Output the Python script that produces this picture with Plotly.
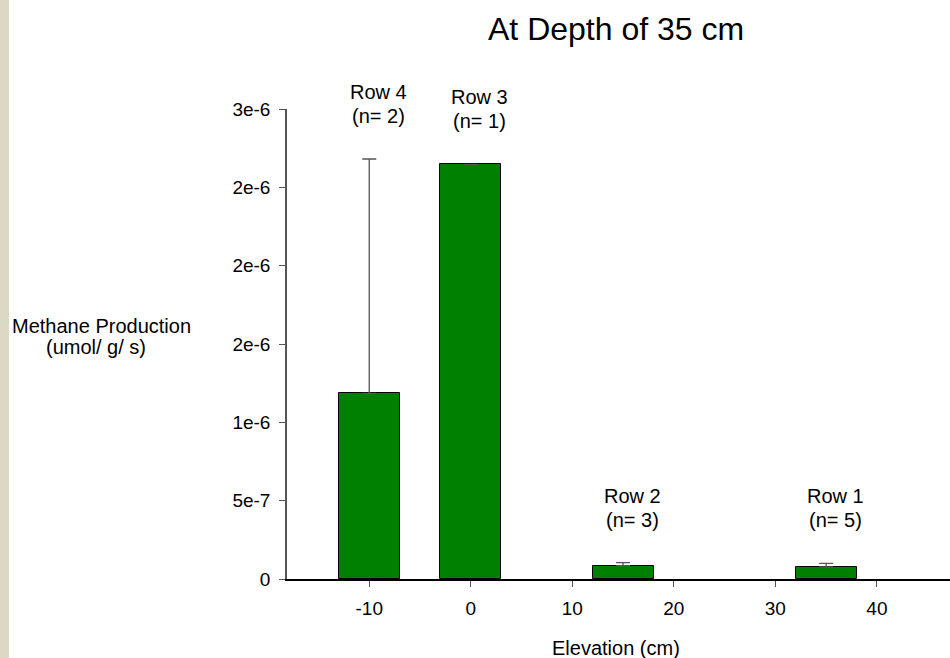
import plotly.graph_objects as go

elevation = [-10, 0, 15, 35]
methane = [1.185e-6, 2.647e-6, 8.5e-8, 7.7e-8]
error_up = [1.496e-6, None, 1.9e-8, 2.3e-8]
row_names = ["Row 4", "Row 3", "Row 2", "Row 1"]
row_counts = ["(n= 2)", "(n= 1)", "(n= 3)", "(n= 5)"]
y_tickvals = [0, 5e-7, 1e-6, 1.5e-6, 2e-6, 2.5e-6, 3e-6]
y_ticktext = ["0", "5e-7", "1e-6", "2e-6", "2e-6", "2e-6", "3e-6"]
x_tickvals = [-10, 0, 10, 20, 30, 40]
x_ticktext = ["-10", "0", "10", "20", "30", "40"]

FONT = "Liberation Sans, Arial, sans-serif"
W, H = 950, 658
L, R, T, B = 287, 0, 109, 79

fig = go.Figure()
fig.add_trace(go.Bar(
    x=elevation, y=methane, width=6,
    marker=dict(color="#008000", line=dict(color="#000000", width=1)),
    error_y=dict(type="data", array=error_up, arrayminus=[0]*len(error_up),
                 symmetric=False, color="#555555", thickness=1.3, width=7),
    showlegend=False,
))

for xv, yv, ev, nm, cnt in zip(elevation, methane, error_up, row_names, row_counts):
    for txt, ys in ((nm, 67), (cnt, 43)):
        fig.add_annotation(x=xv, y=yv + (ev or 0), text=txt, showarrow=False,
                           xref="x", yref="y", xanchor="center", yanchor="middle",
                           xshift=9, yshift=ys,
                           font=dict(family=FONT, size=20, color="#000000"))

pw = W - L - R
ph = H - T - B
# y-axis title (horizontal, two lines)
for txt, cx, cy in (("Methane Production", 101, 326), ("(umol/ g/ s)", 96, 347)):
    fig.add_annotation(x=(cx - L) / pw, y=(H - B - cy) / ph, xref="paper", yref="paper",
                       text=txt, showarrow=False, xanchor="center", yanchor="middle",
                       font=dict(family=FONT, size=20, color="#000000"))
# x-axis title
fig.add_annotation(x=(616 - L) / pw, y=(H - B - 648) / ph, xref="paper", yref="paper",
                   text="Elevation (cm)", showarrow=False,
                   xanchor="center", yanchor="middle",
                   font=dict(family=FONT, size=20, color="#000000"))
# title
fig.add_annotation(x=(616 - L) / pw, y=(H - B - 29) / ph, xref="paper", yref="paper",
                   text="At Depth of 35 cm", showarrow=False,
                   xanchor="center", yanchor="middle",
                   font=dict(family=FONT, size=32, color="#000000"))
# left beige stripe
fig.add_shape(type="rect", xref="paper", yref="paper",
              x0=-L / pw, x1=(9 - L) / pw, y0=-B / ph, y1=(H - B) / ph,
              fillcolor="#DDD8C3", line=dict(width=0), layer="below")

fig.update_layout(
    width=W, height=H,
    margin=dict(l=L, r=R, t=T, b=B, pad=0),
    paper_bgcolor="white", plot_bgcolor="white",
    bargap=0,
    xaxis=dict(range=[-18.1, 47.2], tickvals=x_tickvals, ticktext=x_ticktext, showline=True,
               linecolor="#000000", linewidth=1.5, ticks="outside", ticklen=6,
               tickcolor="#555555", tickwidth=1.3, ticklabelstandoff=5,
               showgrid=False, zeroline=False,
               tickfont=dict(family=FONT, size=19, color="#000000")),
    yaxis=dict(range=[0, 3e-6], tickvals=y_tickvals, ticktext=y_ticktext, showline=True,
               linecolor="#555555", linewidth=1.5, ticks="outside", ticklen=6,
               tickcolor="#555555", tickwidth=1.3, ticklabelstandoff=5,
               showgrid=False, zeroline=False,
               tickfont=dict(family=FONT, size=19, color="#000000")),
)

fig.write_html("out.html")
